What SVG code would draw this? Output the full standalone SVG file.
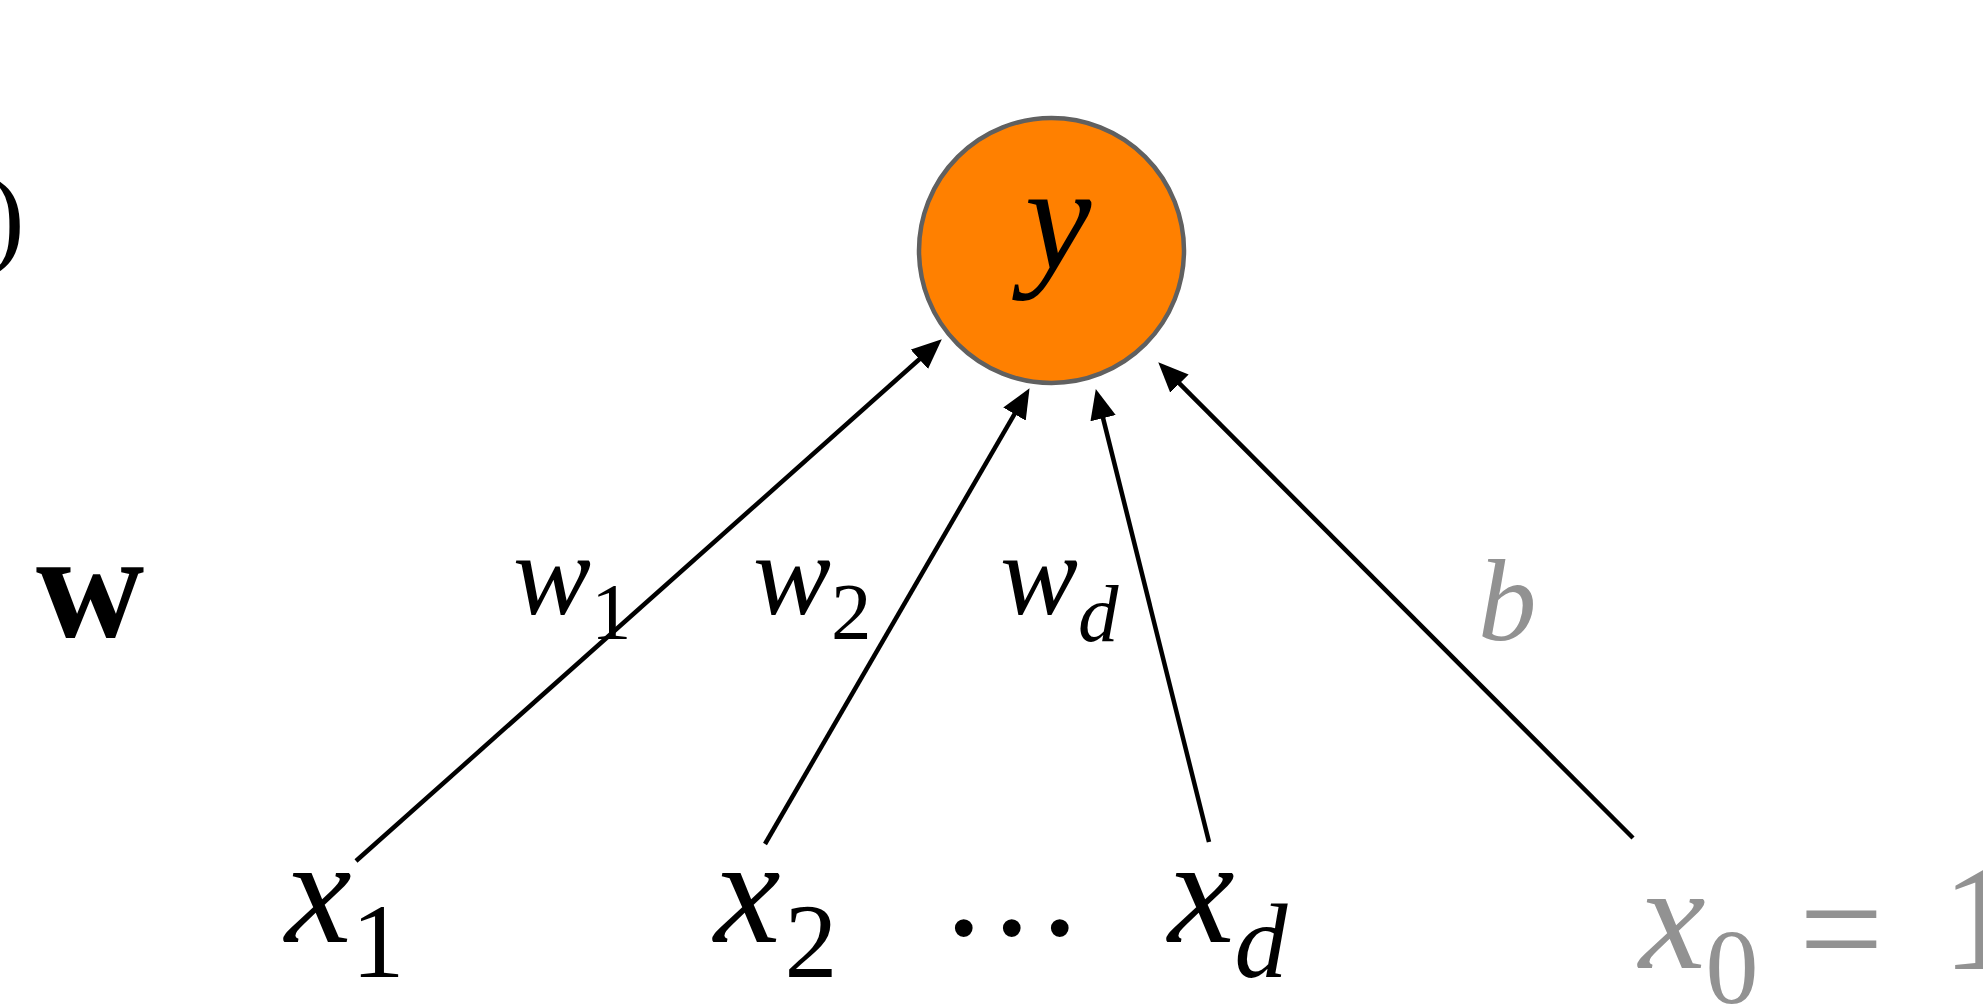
<svg xmlns="http://www.w3.org/2000/svg" width="1983" height="1004" viewBox="0 0 1983 1004">
<style>
text{font-family:'Liberation Serif','Times New Roman',Times,serif}
.m{font-style:italic;font-size:150px;fill:#000}
.w{font-style:italic;font-size:117px;fill:#000}
.up{font-style:normal}
.gray{fill:#929292}
.conn{stroke:#000;stroke-width:4.5;fill:none;marker-end:url(#ah)}
</style>
<defs>
<marker id="ah" markerUnits="userSpaceOnUse" markerWidth="30" markerHeight="26" refX="9" refY="13" orient="auto">
<path d="M0,0 L30,13 L0,26 z" fill="#000"/>
</marker>
</defs>
<rect width="1983" height="1004" fill="#fff"/>
<g id="paren"><text class="m up" style="font-size:110px" x="-12" y="253">)</text></g>
<g id="wvec"><text class="m up" style="font-weight:bold" x="36" y="637">w</text></g>
<g id="node-y">
<circle cx="1051.5" cy="250.5" r="132.5" fill="#FF8000" stroke="#606060" stroke-width="4.5"/>
<text class="m" x="1058" y="269" text-anchor="middle">y</text>
</g>
<g id="connectors">
<line class="conn" x1="356" y1="861" x2="926.1" y2="353.3"/>
<line class="conn" x1="765" y1="844" x2="1019" y2="406.3"/>
<line class="conn" x1="1209" y1="842" x2="1100.9" y2="409.4"/>
<line class="conn" x1="1633" y1="838" x2="1173.1" y2="377.2"/>
</g>
<g id="label-w1"><text class="w" x="513" y="614">w<tspan class="up" style="font-size:81px" dy="25">1</tspan></text></g>
<g id="label-w2"><text class="w" x="753" y="614">w<tspan class="up" style="font-size:81px" dy="25">2</tspan></text></g>
<g id="label-wd"><text class="w" x="1000" y="614">w<tspan style="font-size:81px" dy="27">d</tspan></text></g>
<g id="label-b"><text class="w gray" x="1478" y="640">b</text></g>
<g id="node-x1"><text class="m" x="285" y="942">x<tspan class="up" style="font-size:106px" dy="35">1</tspan></text></g>
<g id="node-x2"><text class="m" x="714" y="942">x<tspan class="up" style="font-size:106px" dx="4" dy="35">2</tspan></text></g>
<g id="dots"><text class="m up" x="945 993 1041" y="935">...</text></g>
<g id="node-xd"><text class="m" x="1168" y="942">x<tspan style="font-size:106px" dy="35">d</tspan></text></g>
<g id="node-x0"><text class="m gray" x="1639" y="968">x<tspan class="up" style="font-size:106px" dy="35">0</tspan><tspan class="up" x="1799" y="979">=</tspan><tspan class="up" x="1942" y="969">1</tspan></text></g>
</svg>
